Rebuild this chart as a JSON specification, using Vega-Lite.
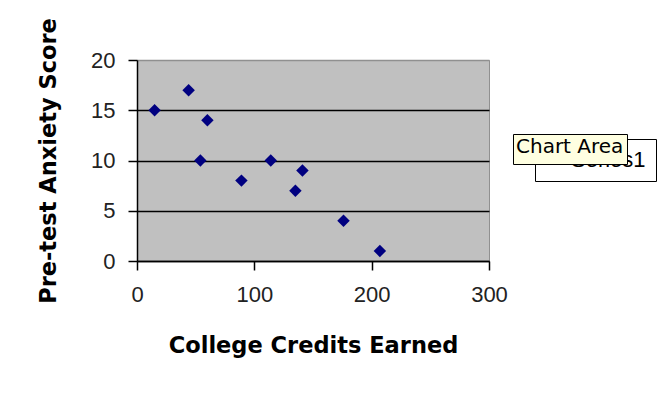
{
  "$schema": "https://vega.github.io/schema/vega-lite/v6.json",
  "width": 352,
  "height": 201,
  "autosize": "none",
  "padding": {"left": 137, "top": 60, "right": 174, "bottom": 137},
  "background": "white",
  "data": {
    "values": [
      {"credits": 15, "anxiety": 15, "series": "Series1", "tip": "Chart Area"},
      {"credits": 44, "anxiety": 17, "series": "Series1", "tip": "Chart Area"},
      {"credits": 54, "anxiety": 10, "series": "Series1", "tip": "Chart Area"},
      {"credits": 60, "anxiety": 14, "series": "Series1", "tip": "Chart Area"},
      {"credits": 89, "anxiety": 8, "series": "Series1", "tip": "Chart Area"},
      {"credits": 114, "anxiety": 10, "series": "Series1", "tip": "Chart Area"},
      {"credits": 135, "anxiety": 7, "series": "Series1", "tip": "Chart Area"},
      {"credits": 141, "anxiety": 9, "series": "Series1", "tip": "Chart Area"},
      {"credits": 176, "anxiety": 4, "series": "Series1", "tip": "Chart Area"},
      {"credits": 207, "anxiety": 1, "series": "Series1", "tip": "Chart Area"}
    ]
  },
  "mark": {"type": "point", "shape": "diamond", "filled": true, "size": 155},
  "encoding": {
    "x": {
      "field": "credits",
      "type": "quantitative",
      "scale": {"domain": [0, 300], "nice": false, "zero": true},
      "axis": {
        "values": [0, 100, 200, 300],
        "grid": false,
        "domainColor": "black",
        "domainWidth": 1.5,
        "tickColor": "black",
        "tickWidth": 1.5,
        "tickSize": 9,
        "labelFont": "Liberation Sans",
        "labelFontSize": 22,
        "labelColor": "#222222",
        "labelPadding": 14,
        "labelFlush": false,
        "title": "College Credits Earned",
        "titleFont": "DejaVu Sans",
        "titleFontSize": 22.5,
        "titleFontWeight": "bold",
        "titleColor": "black",
        "titlePadding": 29
      }
    },
    "y": {
      "field": "anxiety",
      "type": "quantitative",
      "scale": {"domain": [0, 20], "nice": false},
      "axis": {
        "values": [0, 5, 10, 15, 20],
        "grid": true,
        "gridColor": {"condition": {"test": "datum.value === 20", "value": "#909090"}, "value": "black"},
        "gridWidth": 1.5,
        "gridOpacity": 1,
        "domainColor": "black",
        "domainWidth": 1.5,
        "tickColor": "black",
        "tickWidth": 1.5,
        "tickSize": 9,
        "labelFont": "Liberation Sans",
        "labelFontSize": 22,
        "labelColor": "#222222",
        "labelPadding": 13,
        "title": "Pre-test Anxiety Score",
        "titleFont": "DejaVu Sans",
        "titleFontSize": 22.5,
        "titleFontWeight": "bold",
        "titleColor": "black",
        "titlePadding": 30
      }
    },
    "color": {
      "field": "series",
      "type": "nominal",
      "scale": {"range": ["#000080"]},
      "legend": {
        "orient": "none",
        "legendX": 398,
        "legendY": 79,
        "title": null,
        "strokeColor": "black",
        "fillColor": "white",
        "padding": 10,
        "symbolType": "diamond",
        "symbolSize": 40,
        "labelFont": "Liberation Sans",
        "labelFontSize": 22,
        "labelColor": "black",
        "zindex": 1
      }
    },
    "opacity": {
      "field": "tip",
      "type": "nominal",
      "scale": {"range": [1, 1]},
      "legend": {
        "orient": "none",
        "legendX": 376,
        "legendY": 74,
        "title": "Chart Area",
        "titleFont": "DejaVu Sans",
        "titleFontSize": 20,
        "titleFontWeight": "normal",
        "titleColor": "black",
        "titlePadding": 0,
        "strokeColor": "black",
        "fillColor": "#FFFFE1",
        "padding": 3,
        "symbolSize": 0,
        "symbolOpacity": 0,
        "labelExpr": "''",
        "labelFontSize": 1,
        "rowPadding": 0,
        "zindex": 2
      }
    }
  },
  "config": {
    "view": {"fill": "#c0c0c0", "stroke": "#909090", "strokeWidth": 1}
  }
}
